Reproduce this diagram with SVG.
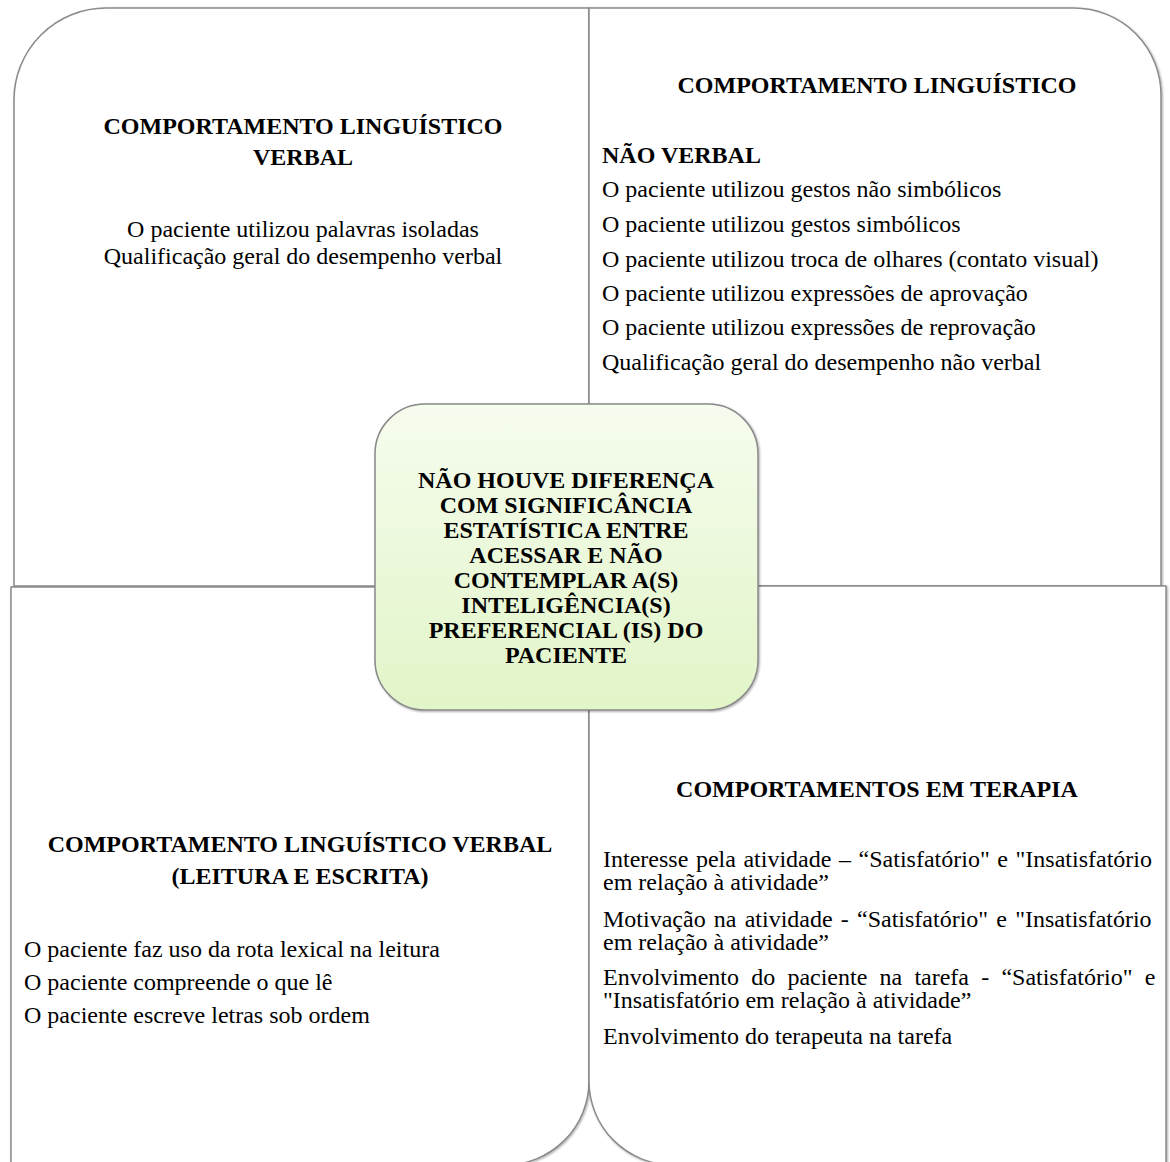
<svg xmlns="http://www.w3.org/2000/svg" width="1170" height="1162" viewBox="0 0 1170 1162">
<style>
.q{fill:#ffffff;stroke:#8a8a8a;stroke-width:1.5}
.h{font-family:"Liberation Serif","Times New Roman",serif;font-weight:bold;font-size:24px;fill:#000}
.b{font-family:"Liberation Serif","Times New Roman",serif;font-size:24px;fill:#000}
.c{text-anchor:middle}
</style>
<defs>
<filter id="sh" x="-5%" y="-5%" width="110%" height="110%">
<feGaussianBlur in="SourceAlpha" stdDeviation="1.2"/>
<feOffset dx="1" dy="1" result="o"/>
<feComponentTransfer><feFuncA type="linear" slope="0.35"/></feComponentTransfer>
<feMerge><feMergeNode/><feMergeNode in="SourceGraphic"/></feMerge>
</filter>
<linearGradient id="g" x1="0" y1="0" x2="0" y2="1">
<stop offset="0" stop-color="#f6fcee"/>
<stop offset="1" stop-color="#e2f5c8"/>
</linearGradient>
</defs>
<rect width="1170" height="1162" fill="#ffffff"/>

<g id="top-left">
<path class="q" filter="url(#sh)" d="M14,586 L14,100 A92,92 0 0 1 106,8 L589,8 L589,586 Z"/>
<text class="h c" x="303" y="134">COMPORTAMENTO LINGUÍSTICO</text>
<text class="h c" x="303" y="165">VERBAL</text>
<text class="b c" x="303" y="237">O paciente utilizou palavras isoladas</text>
<text class="b c" x="303" y="264">Qualificação geral do desempenho verbal</text>
</g>

<g id="top-right">
<path class="q" filter="url(#sh)" d="M589,8 L1074,8 A87,87 0 0 1 1161,95 L1161,586 L589,586 Z"/>
<text class="h c" x="877" y="93">COMPORTAMENTO LINGUÍSTICO</text>
<text class="h" x="602" y="163">NÃO VERBAL</text>
<text class="b" x="602" y="197">O paciente utilizou gestos não simbólicos</text>
<text class="b" x="602" y="232">O paciente utilizou gestos simbólicos</text>
<text class="b" x="602" y="267">O paciente utilizou troca de olhares (contato visual)</text>
<text class="b" x="602" y="301">O paciente utilizou expressões de aprovação</text>
<text class="b" x="602" y="335">O paciente utilizou expressões de reprovação</text>
<text class="b" x="602" y="370">Qualificação geral do desempenho não verbal</text>
</g>

<g id="bottom-left">
<path class="q" filter="url(#sh)" d="M11,587 L589,587 L589,1081 A84,84 0 0 1 505,1165 L11,1165 Z"/>
<text class="h c" x="300" y="852">COMPORTAMENTO LINGUÍSTICO VERBAL</text>
<text class="h c" x="300" y="884">(LEITURA E ESCRITA)</text>
<text class="b" x="24" y="957">O paciente faz uso da rota lexical na leitura</text>
<text class="b" x="24" y="990">O paciente compreende o que lê</text>
<text class="b" x="24" y="1023">O paciente escreve letras sob ordem</text>
</g>

<g id="bottom-right">
<path class="q" filter="url(#sh)" d="M589,586 L1166,586 L1166,1165 L673,1165 A84,84 0 0 1 589,1081 Z"/>
<text class="h c" x="877" y="797">COMPORTAMENTOS EM TERAPIA</text>
<text class="b" x="603" y="867" word-spacing="1.6">Interesse pela atividade – “Satisfatório" e "Insatisfatório</text>
<text class="b" x="603" y="890">em relação à atividade”</text>
<text class="b" x="603" y="927" word-spacing="2.2">Motivação na atividade - “Satisfatório" e "Insatisfatório</text>
<text class="b" x="603" y="950">em relação à atividade”</text>
<text class="b" x="603" y="985" word-spacing="6.2">Envolvimento do paciente na tarefa - “Satisfatório" e</text>
<text class="b" x="603" y="1008">"Insatisfatório em relação à atividade”</text>
<text class="b" x="603" y="1044">Envolvimento do terapeuta na tarefa</text>
</g>

<g id="center">
<rect x="375" y="404" width="383" height="306" rx="50" ry="50" fill="url(#g)" stroke="#8a8a8a" stroke-width="1.5" filter="url(#sh)"/>
<text class="h c" x="566" y="488">NÃO HOUVE DIFERENÇA</text>
<text class="h c" x="566" y="513">COM SIGNIFICÂNCIA</text>
<text class="h c" x="566" y="538">ESTATÍSTICA ENTRE</text>
<text class="h c" x="566" y="563">ACESSAR E NÃO</text>
<text class="h c" x="566" y="588">CONTEMPLAR A(S)</text>
<text class="h c" x="566" y="613">INTELIGÊNCIA(S)</text>
<text class="h c" x="566" y="638">PREFERENCIAL (IS) DO</text>
<text class="h c" x="566" y="663">PACIENTE</text>
</g>

<g id="connectors"></g>
</svg>
